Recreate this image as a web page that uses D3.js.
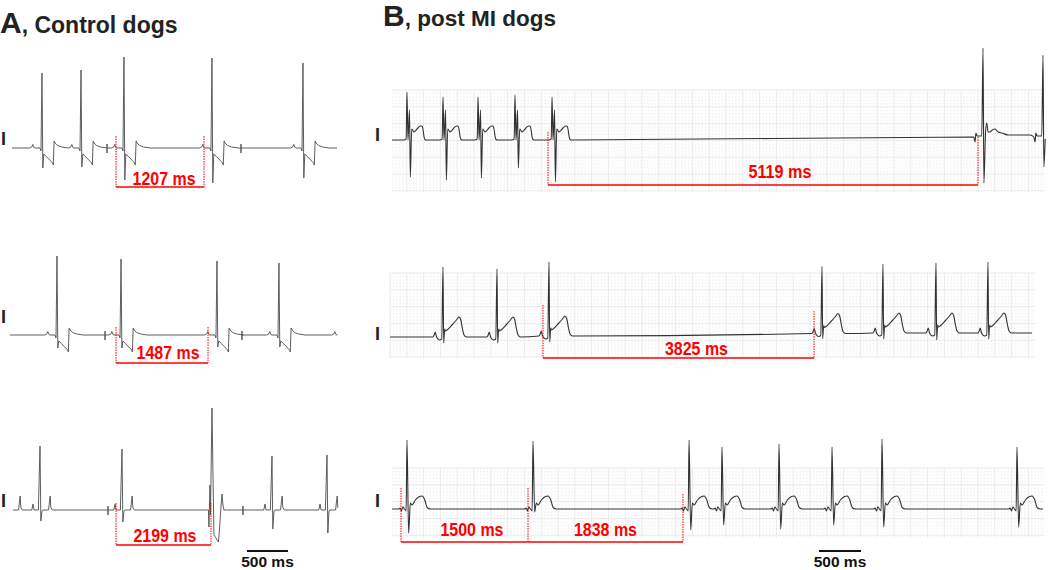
<!DOCTYPE html>
<html><head><meta charset="utf-8">
<script src="https://cdn.jsdelivr.net/npm/d3@7"></script>
<style>
body{margin:0;background:#fff}
svg{display:block}
text{font-family:"Liberation Sans",Arial,Helvetica,sans-serif;font-weight:bold}
</style>
</head><body>
<svg id="chart" width="1050" height="570"></svg>
<script>
// ================= DATA =================
const panelLetters = ["A", "B"];
const panelTitles = [", Control dogs", ", post MI dogs"];
const leadLabel = "I";
const scaleBarMs = 500;
const scaleBarLabel = "500 ms";

// Beat templates: [ms relative to R peak, mV]; "R"/"S" are filled per beat
const tplCtrl = [[-150,0],[-125,0.02],[-112,0.07],[-100,0.02],[-90,0],[-25,0],[-12,-0.06],[0,"R"],[10,"S"],[22,-0.12],[60,-0.18],[130,-0.3],[138,-0.34],[148,0.14],[160,0.1],[190,0.05],[240,0.02],[320,0]];
const tplCtrl2 = [[-150,0],[-100,0],[-85,0.12],[-72,0],[-20,0],[0,"R"],[10,"S"],[24,-0.02],[35,0],[105,0],[115,0.16],[124,0.28],[132,0.05],[150,0]];
const tplPvc = [[-80,0],[-43,0],[-37,-0.34],[-24,0.5],[-18,-0.1],[0,"R"],[24,-0.5],[49,-0.56],[61,-0.6],[79,-0.64],[91,-0.4],[110,0.06],[122,0.32],[134,0.1],[146,0],[180,0]];
const tplMi1 = [[-40,0],[-10,0.02],[0,"R"],[12,0],[30,0.6],[40,"S"],[56,0.22],[68,0.2],[80,0.16],[100,0.18],[130,0.24],[160,0.28],[179,0.28],[192,0.2],[204,0.06],[214,0.01],[230,0]];
const tplMi1Big = [[-110,0],[-95,-0.1],[-85,0.08],[-70,0.02],[-15,0.02],[0,"R"],[10,"S"],[30,0.1],[44,0.28],[60,0.1],[83,0.1],[110,0.14],[143,0.16],[180,0.1],[226,0.08],[300,0.04],[560,0.04]];
const tplMi2 = [[-120,0],[-105,0.04],[-92,0.1],[-80,0.02],[-70,-0.02],[-40,-0.06],[-15,-0.04],[0,"R"],[8,"S"],[20,0.16],[30,0.12],[48,0.14],[107,0.24],[160,0.34],[190,0.4],[212,0.34],[232,0.16],[250,0.04],[280,0]];
const tplMi3 = [[-100,0],[-80,0.02],[-65,-0.04],[-50,0.04],[-30,0],[-10,-0.04],[0,"R"],[20,"S"],[40,0.12],[60,0.08],[100,0.18],[150,0.25],[179,0.26],[212,0.18],[240,0.03],[278,0]];
const tplTick = [[0,0],[0,0.08],[0,-0.1],[0,0]];

// Beats: [time ms, R amplitude mV, S amplitude mV, baseline offset mV, template]
const beatsA1 = [[390,1.5,-0.4],[866,1.56,-0.38],[1390,1.82,-0.64],[2463,1.8,-0.7],[3573,1.7,-0.6]];
const beatsA2 = [[573,1.58,-0.26],[1354,1.52,-0.26],[2524,1.48,-0.24],[3280,1.44,-0.24],[4073,1.4,-0.24]];
const beatsA3 = [[0,1.2,-0.2],[366,1.28,-0.22],[1366,1.22,-0.24],[2463,2.04,-0.64,0,"pvc"],[3195,1.08,-0.38],[3866,1.1,-0.46]];
const beatsB1 = [[202,0.96,-0.74],[631,0.86,-0.8],[1048,0.86,-0.76],[1488,0.9,-0.56],[1929,0.86,-0.84],[7060,1.78,-0.92,0.06,"mi1big"],[7774,1.64,-0.6,0.06,"mi1big"]];
const beatsB2 = [[631,1.4,-0.12,-0.04],[1274,1.36,-0.12,-0.04],[1893,1.48,-0.12,-0.02],[5143,1.34,-0.1,0.03],[5869,1.38,-0.12,0.04],[6500,1.4,-0.14,0.04],[7119,1.42,-0.12,0.04]];
const beatsB3 = [[202,1.38,-0.48],[1702,1.36,-0.06],[3560,1.38,-0.42],[3952,1.24,-0.32],[4631,1.3,-0.4],[5262,1.24,-0.32],[5857,1.4,-0.36],[7464,1.24,-0.36]];

// Pacing artefacts (ms)
const ticksA1 = [1183, 2817];
const ticksA2 = [1159, 2829];
const ticksA3 = [1195, 2841];

// Measured intervals: [from ms, to ms, label]
const intervalsA1 = [[1293, 2366, "1207 ms"]];
const intervalsA2 = [[1293, 2415, "1487 ms"]];
const intervalsA3 = [[1293, 2451, "2199 ms"]];
const intervalsB1 = [[1881, 7000, "5119 ms"]];
const intervalsB2 = [[1821, 5048, "3825 ms"]];
const intervalsB3 = [[131, 1643, "1500 ms"], [1643, 3488, "1838 ms"]];

// ================= LAYOUT =================
const templates = {ctrl: tplCtrl, ctrl2: tplCtrl2, pvc: tplPvc, mi1: tplMi1, mi1big: tplMi1Big, mi2: tplMi2, mi3: tplMi3, tick: tplTick};
const xA = d3.scaleLinear().domain([0, 4000]).range([10, 338]);
const xB = d3.scaleLinear().domain([0, 7800]).range([390, 1045.2]);
const pxPerMv = 50;

const strips = [
  {x:xA, beats:beatsA1, ticks:ticksA1, tpl:"ctrl", start:24, end:3988, base:148, iv:intervalsA1,
   top:[12,12], bot:187, lblY:185, lblDx:[4], leadY:145, leadX:1, color:"#555", sw:0.95, smooth:false},
  {x:xA, beats:beatsA2, ticks:ticksA2, tpl:"ctrl", start:0, end:3995, base:335, iv:intervalsA2,
   top:[8,8], bot:363, lblY:359, lblDx:[6], leadY:323, leadX:1, color:"#555", sw:0.95, smooth:false},
  {x:xA, beats:beatsA3, ticks:ticksA3, tpl:"ctrl2", start:37, end:4000, base:510, iv:intervalsA3,
   top:[7,7], bot:545, lblY:542, lblDx:[1.5], leadY:507, leadX:1, color:"#555", sw:0.95, smooth:false},
  {x:xB, beats:beatsB1, ticks:[], tpl:"mi1", start:24, end:7800, base:140, iv:intervalsB1,
   top:[8,3], bot:185, lblY:178, lblDx:[17], leadY:141, leadX:375, color:"#333", sw:1.1, smooth:true,
   grid:[392, 1045, 90, 192]},
  {x:xB, beats:beatsB2, ticks:[], tpl:"mi2", start:0, end:7643, base:335, iv:intervalsB2,
   top:[30,24], bot:358, lblY:355, lblDx:[18], leadY:340, leadX:375, color:"#333", sw:1.1, smooth:true,
   grid:[390, 1035, 273, 358]},
  {x:xB, beats:beatsB3, ticks:[], tpl:"mi3", start:24, end:7774, base:509, iv:intervalsB3,
   top:[21,21,15], bot:542, lblY:536, lblDx:[7.5, 0], leadY:507, leadX:375, color:"#333", sw:1.1, smooth:true,
   grid:[392, 1045, 468, 538]}
];

const svg = d3.select("#chart");

// titles
const titlePos = [{x:0, y:33, fs:23}, {x:383, y:26, fs:22.5}];
panelLetters.forEach((L, i) => {
  const t = svg.append("text").attr("x", titlePos[i].x).attr("y", titlePos[i].y).attr("fill", "#222");
  t.append("tspan").attr("font-size", 30).text(L);
  t.append("tspan").attr("font-size", titlePos[i].fs).text(panelTitles[i]);
});

function buildPoints(s) {
  const events = s.beats.map(b => ({t:b[0], r:b[1], s:b[2], b:b[3] || 0, tpl:b[4] || s.tpl}))
    .concat(s.ticks.map(t => ({t, r:0, s:0, b:0, tpl:"tick"})));
  events.sort((a, b) => a.t - b.t);
  let pts = [];
  events.forEach(ev => {
    templates[ev.tpl].forEach(([dt, v]) => {
      const val = v === "R" ? ev.r : v === "S" ? ev.s : v;
      pts.push([ev.t + dt, val + ev.b]);
    });
  });
  if (pts[0][0] > s.start) pts.unshift([s.start, pts[0][1]]);
  if (pts[pts.length - 1][0] < s.end) pts.push([s.end, pts[pts.length - 1][1]]);
  const out = [];
  for (let i = 0; i < pts.length; i++) {
    const p = pts[i];
    if (p[0] >= s.start && p[0] <= s.end) {
      if (out.length === 0 && i > 0 && pts[i-1][0] < s.start) {
        const q = pts[i-1], f = (s.start - q[0]) / (p[0] - q[0]);
        out.push([s.start, q[1] + f * (p[1] - q[1])]);
      }
      out.push(p);
    } else if (p[0] > s.end && out.length && out[out.length-1][0] < s.end) {
      const q = pts[i-1], f = (s.end - q[0]) / (p[0] - q[0]);
      out.push([s.end, q[1] + f * (p[1] - q[1])]);
      break;
    }
  }
  return out;
}

strips.forEach(s => {
  const y = d3.scaleLinear().domain([0, 1]).range([s.base, s.base - pxPerMv]);
  const g = svg.append("g");

  // ECG paper grid
  if (s.grid) {
    const [gx0, gx1, gy0, gy1] = s.grid;
    const gg = g.append("g");
    const t0 = Math.ceil(s.x.invert(gx0) / 40) * 40;
    const tMax = s.x.invert(gx1);
    d3.range(t0, tMax, 40).forEach(t => {
      const major = t % 200 === 0;
      gg.append("line").attr("x1", s.x(t)).attr("x2", s.x(t)).attr("y1", gy0).attr("y2", gy1)
        .attr("stroke", major ? "#e6e6e6" : "#e9e9e9").attr("stroke-width", 0.8)
        .attr("stroke-dasharray", major ? null : "0.9,2.5");
    });
    d3.range(gy0, gy1 + 0.1, 3.36).forEach((yy, k) => {
      const major = k % 5 === 0;
      gg.append("line").attr("x1", gx0).attr("x2", gx1).attr("y1", yy).attr("y2", yy)
        .attr("stroke", major ? "#e6e6e6" : "#e9e9e9").attr("stroke-width", 0.8)
        .attr("stroke-dasharray", major ? null : "0.9,2.5");
    });
  }

  // trace
  const pts = buildPoints(s);
  const line = d3.line().x(d => s.x(d[0])).y(d => y(d[1]))
    .curve(s.smooth ? d3.curveMonotoneX : d3.curveLinear);
  g.append("path").attr("d", line(pts)).attr("fill", "none")
    .attr("stroke", s.color).attr("stroke-width", s.sw).attr("stroke-linejoin", "round");

  // lead label
  g.append("text").attr("x", s.leadX).attr("y", s.leadY).attr("font-size", 18).attr("fill", "#222").text(leadLabel);

  // intervals
  const red = "#ff0000";
  const edges = [];
  s.iv.forEach(iv => { if (!edges.includes(iv[0])) edges.push(iv[0]); if (!edges.includes(iv[1])) edges.push(iv[1]); });
  edges.forEach((t, k) => {
    g.append("line").attr("x1", s.x(t)).attr("x2", s.x(t))
      .attr("y1", s.base - s.top[k]).attr("y2", s.bot)
      .attr("stroke", red).attr("stroke-width", 1).attr("stroke-dasharray", "1.5,1");
  });
  s.iv.forEach((iv, k) => {
    g.append("line").attr("x1", s.x(iv[0])).attr("x2", s.x(iv[1]))
      .attr("y1", s.bot).attr("y2", s.bot).attr("stroke", red).attr("stroke-width", 1.6);
    g.append("text").attr("x", (s.x(iv[0]) + s.x(iv[1])) / 2 + s.lblDx[k]).attr("y", s.lblY)
      .attr("text-anchor", "middle").attr("font-size", 17.5)
      .attr("textLength", 63).attr("lengthAdjust", "spacingAndGlyphs")
      .attr("fill", red).text(iv[2]);
  });
});

// scale bars
const bars = [{x:xA, t0:2890, y:551, ly:567}, {x:xB, t0:5107, y:551, ly:567}];
bars.forEach(b => {
  svg.append("line").attr("x1", b.x(b.t0)).attr("x2", b.x(b.t0 + scaleBarMs))
    .attr("y1", b.y).attr("y2", b.y).attr("stroke", "#111").attr("stroke-width", 2.2);
  svg.append("text").attr("x", (b.x(b.t0) + b.x(b.t0 + scaleBarMs)) / 2).attr("y", b.ly)
    .attr("text-anchor", "middle").attr("font-size", 15.5).attr("fill", "#111").text(scaleBarLabel);
});
</script>
</body></html>
